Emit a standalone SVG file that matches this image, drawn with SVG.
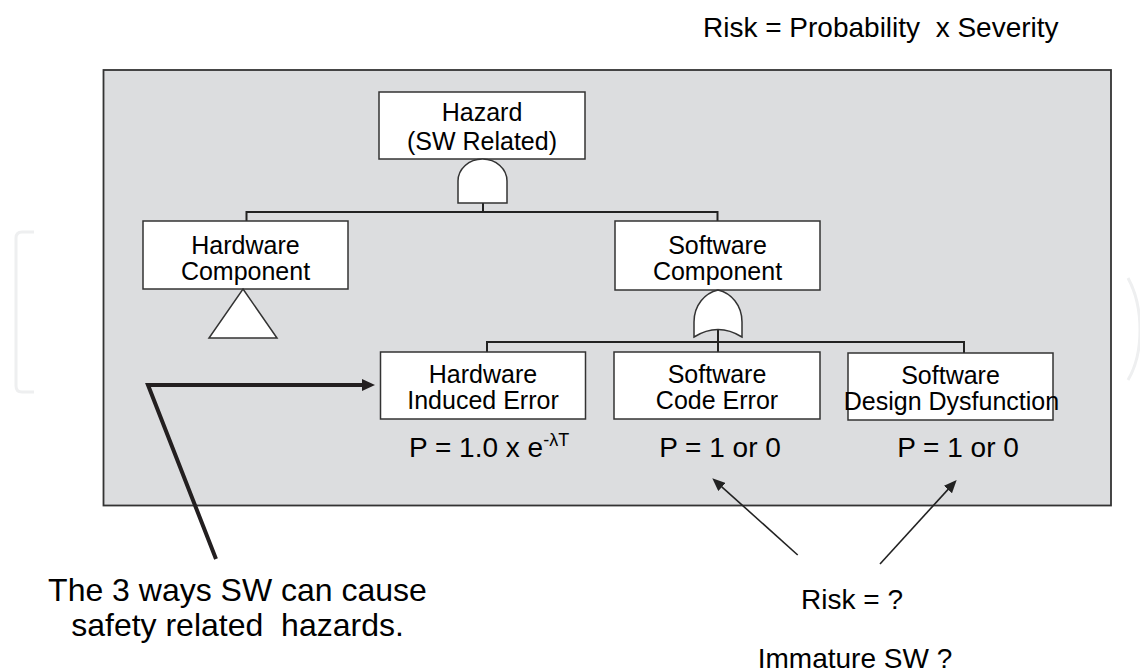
<svg xmlns="http://www.w3.org/2000/svg" width="1140" height="672" viewBox="0 0 1140 672">
<defs>
<style>
.t{font-family:"Liberation Sans",Arial,Helvetica,sans-serif;fill:#000}
.n{font-size:25px;text-anchor:middle}
.b{font-size:28px}
.c{font-size:32px;text-anchor:middle}
.box{fill:#fff;stroke:#333;stroke-width:1.5}
.gate{fill:#fff;stroke:#333;stroke-width:1.5}
.wire{fill:none;stroke:#222;stroke-width:2}
.thin{fill:none;stroke:#222;stroke-width:1.6}
.thick{fill:none;stroke:#231f20;stroke-width:4;stroke-linejoin:miter}
.wm{fill:none;stroke:#eeeff0;stroke-width:3}
</style>
<marker id="ahBig" markerUnits="userSpaceOnUse" viewBox="0 0 13 12" refX="4" refY="6" markerWidth="13" markerHeight="12" orient="auto">
<path d="M0,0 L13,6 L0,12 Z" fill="#231f20"/>
</marker>
<marker id="ah" markerUnits="userSpaceOnUse" viewBox="0 0 13 11" refX="4" refY="5.5" markerWidth="13" markerHeight="11" orient="auto">
<path d="M0,0 L13,5.5 L0,11 Z" fill="#222"/>
</marker>
</defs>
<rect width="1140" height="672" fill="#fff"/>
<path class="wm" d="M34,232 H22 Q16,232 16,238 V386 Q16,392 22,392 H34"/>
<path class="wm" d="M1128,278 Q1140,300 1140,330 Q1140,360 1128,380"/>
<text class="t b" x="703" y="37" xml:space="preserve">Risk = Probability  x Severity</text>
<rect id="frame" x="103.5" y="70" width="1007.5" height="435.5" fill="#dcdddf" stroke="#333" stroke-width="1.8"/>
<g id="connectors">
<path class="wire" d="M483,203 V212 M246.5,221 V212 H717.5 V221"/>
<path class="wire" d="M718,330 V342 M487,352 V342 H964 V353 M718,342 V352"/>
<polyline class="thick" points="216,559 148,385 366,385" marker-end="url(#ahBig)"/>
<line class="thin" x1="797.7" y1="555" x2="719" y2="484.3" marker-end="url(#ah)"/>
<line class="thin" x1="880" y1="564" x2="950.6" y2="486.6" marker-end="url(#ah)"/>
</g>
<g id="hazard">
<rect class="box" x="379" y="92" width="206" height="67"/>
<text class="t n" x="482" y="121">Hazard</text>
<text class="t n" x="482" y="150">(SW Related)</text>
</g>
<g id="and-gate">
<path class="gate" d="M458,203 V181 A24.5,22 0 0 1 507,181 V203 Z"/>
</g>
<g id="hardware-component">
<rect class="box" x="143" y="221" width="205" height="68"/>
<text class="t n" x="245.5" y="254">Hardware</text>
<text class="t n" x="245.5" y="280">Component</text>
</g>
<g id="undeveloped">
<polygon class="gate" points="243,289 277,338 209,338"/>
</g>
<g id="software-component">
<rect class="box" x="615" y="221" width="205" height="69"/>
<text class="t n" x="717.5" y="254">Software</text>
<text class="t n" x="717.5" y="280">Component</text>
</g>
<g id="or-gate">
<path class="gate" d="M694,337 L694,322 C694,305 705,293 718,290 C731,293 742,305 742,322 L742,337 Q718,322 694,337 Z"/>
</g>
<g id="hw-induced">
<rect class="box" x="380.5" y="352" width="205" height="67"/>
<text class="t n" x="483" y="383">Hardware</text>
<text class="t n" x="483" y="409">Induced Error</text>
<text class="t b" x="409" y="457">P = 1.0 x e<tspan font-size="18" dy="-11">-λT</tspan></text>
</g>
<g id="sw-code">
<rect class="box" x="614" y="352" width="206" height="67"/>
<text class="t n" x="717" y="383">Software</text>
<text class="t n" x="717" y="409">Code Error</text>
<text class="t b" x="720" y="457" text-anchor="middle">P = 1 or 0</text>
</g>
<g id="sw-design">
<rect class="box" x="848" y="353" width="205" height="67"/>
<text class="t n" x="950.5" y="384">Software</text>
<text class="t n" x="951.5" y="410">Design Dysfunction</text>
<text class="t b" x="958" y="457" text-anchor="middle">P = 1 or 0</text>
</g>
<g id="notes">
<text class="t c" x="237.5" y="601">The 3 ways SW can cause</text>
<text class="t c" x="237.5" y="636" xml:space="preserve">safety related  hazards.</text>
<text class="t b" x="852" y="609" text-anchor="middle">Risk = ?</text>
<text class="t b" x="855" y="668" text-anchor="middle">Immature SW ?</text>
</g>
</svg>
